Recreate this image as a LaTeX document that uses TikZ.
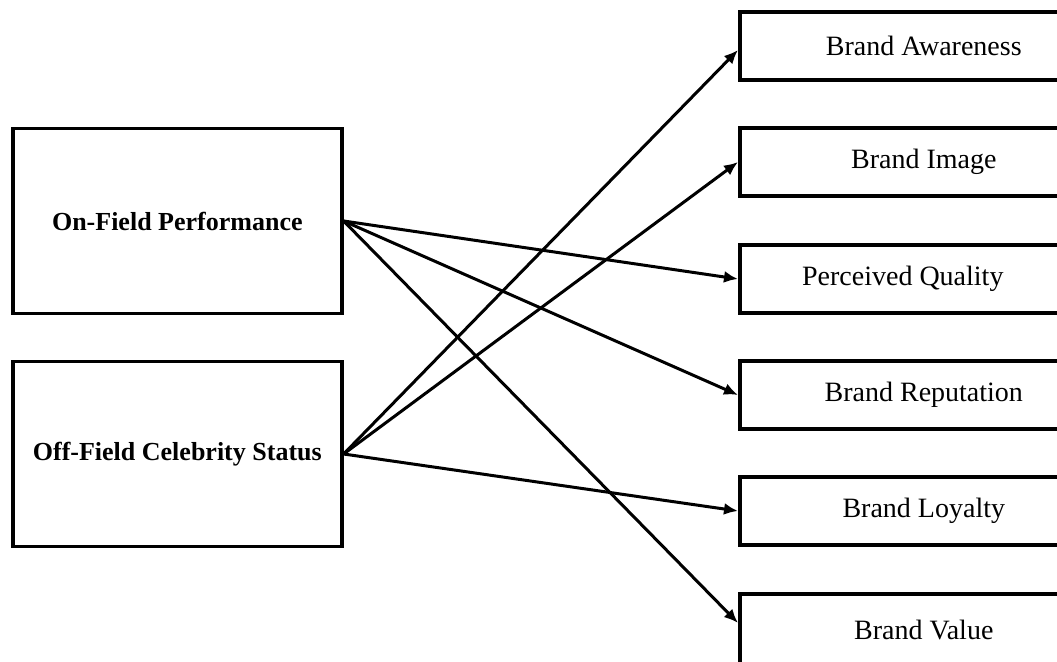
\documentclass[tikz,border=0pt]{standalone}
\usepackage{fontspec}
\setmainfont{Liberation Serif}
\usetikzlibrary{arrows.meta}
\begin{document}
\begin{tikzpicture}[x=1pt,y=-1pt,
  srcbox/.style={draw=black,line width=3.6pt,minimum width=329pt,minimum height=185pt,inner sep=0pt,font=\fontsize{26}{29}\selectfont\bfseries,anchor=west},
  tgtbox/.style={draw=black,line width=3.6pt,minimum width=368pt,minimum height=68pt,inner sep=0pt,font=\fontsize{28}{31}\selectfont,anchor=west},
  link/.style={line width=3pt,-{Latex[length=14pt,width=12pt]}}]
\useasboundingbox (0,0) rectangle (1057,661);
\clip (0,0) rectangle (1057,661);
\node[srcbox] (on) at (11,221) {On-Field Performance};
\node[srcbox] (off) at (11,454) {Off-Field Celebrity Status};
\node[tgtbox] (aw) at (738,46) {Brand Awareness};
\node[tgtbox] (im) at (738,162) {Brand Image};
\node[tgtbox] (pq) at (738,279) {Perceived Quality\hspace*{42pt}};
\node[tgtbox] (re) at (738,395) {Brand Reputation};
\node[tgtbox] (lo) at (738,511) {Brand Loyalty};
\node[tgtbox,minimum height=90pt] (va) at (738,639) {\raisebox{18pt}{Brand Value}};
\draw[link] (on.east) -- (pq.west);
\draw[link] (on.east) -- (re.west);
\draw[link] (on.east) -- ([yshift=16pt]va.west);
\draw[link] (off.east) -- ([yshift=-4pt]aw.west);
\draw[link] (off.east) -- (im.west);
\draw[link] (off.east) -- (lo.west);
\end{tikzpicture}
\end{document}
